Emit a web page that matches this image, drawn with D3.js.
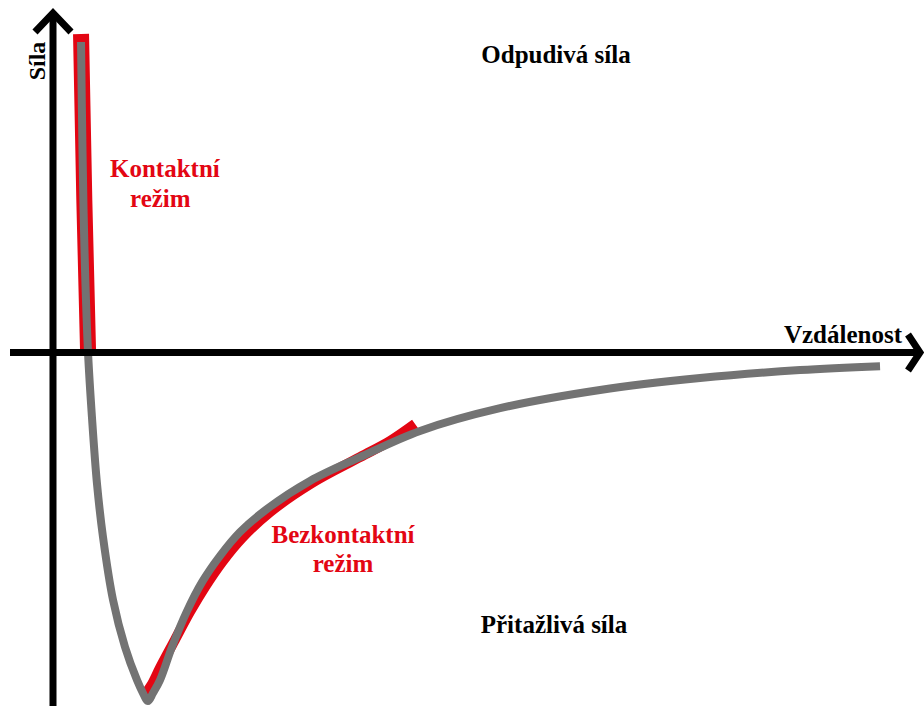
<!DOCTYPE html>
<html>
<head>
<meta charset="utf-8">
<script src="https://cdn.jsdelivr.net/npm/d3@7"></script>
<style>
  body { margin: 0; background: #fff; }
</style>
</head>
<body>
<svg id="chart" width="924" height="706"></svg>
<script>
// force vs. distance curve (arbitrary units)
const curveDist  = [3.24, 3.41, 3.64, 4.05, 4.51, 5.09, 5.78, 6.94, 8.32, 9.71, 10.40,
                    10.98, 11.56, 12.37, 13.76, 15.49, 17.23, 19.31, 21.62, 24.74,
                    29.71, 35.49, 42.43, 51.68, 63.24, 74.80, 86.36, 95.61]
const curveForce = [88.7, 57.9, 29.3, 0, -18.7, -37.6, -52.7, -70.7, -84.1, -93.6, -97.3,
                    -99.6, -97.3, -93.6, -84.1, -73.9, -65.6, -58.1, -51.3, -44.7,
                    -36.7, -29.9, -22.4, -15.9, -10.7, -7.3, -5.0, -3.9]

// highlighted regimes
const contactDist  = [3.24, 3.62, 4.05]
const contactForce = [91.0, 43.6, 0.7]
const noncontactDist  = [10.64, 11.45, 12.37, 14.10, 15.84, 17.57, 19.54, 21.85, 25.09, 29.94, 35.49, 38.96, 41.85]
const noncontactForce = [-97.6, -94.7, -90.1, -82.1, -74.1, -67.0, -59.9, -53.0, -45.6, -37.3, -29.9, -25.3, -20.4]

const axisLabels = { x: 'Vzdálenost', y: 'Síla' }
const regionLabels = ['Odpudivá síla', 'Přitažlivá síla']
const contactLabel = ['Kontaktní', 'režim']
const noncontactLabel = ['Bezkontaktní', 'režim']

var svg = d3.select('#chart')
var red = '#e30613', grey = '#737373'
var font = "'Liberation Serif', 'Times New Roman', Times, serif"

var xScale = d3.scaleLinear().domain([0, 100]).range([53, 918])
var yScale = d3.scaleLinear().domain([-100, 100]).range([702.5, 2.5])

var zip = (xs, ys) => xs.map((x, i) => [x, ys[i]])
var line = d3.line()
  .x(d => xScale(d[0]))
  .y(d => yScale(d[1]))

// red highlight under the curve
svg.append('path')
  .attr('d', line.curve(d3.curveLinear)(zip(contactDist, contactForce)))
  .attr('fill', 'none')
  .attr('stroke', red)
  .attr('stroke-width', 16)

svg.append('path')
  .attr('d', line.curve(d3.curveCatmullRom.alpha(0.5))(zip(noncontactDist, noncontactForce)))
  .attr('fill', 'none')
  .attr('stroke', red)
  .attr('stroke-width', 10)

// main curve
svg.append('path')
  .attr('d', line.curve(d3.curveCatmullRom.alpha(0.5))(zip(curveDist, curveForce)))
  .attr('fill', 'none')
  .attr('stroke', grey)
  .attr('stroke-width', 8)
  .attr('stroke-linejoin', 'round')

// axes
var x0 = xScale(0), y0 = yScale(0)
var axes = svg.append('g')
  .attr('stroke', '#000')
  .attr('stroke-width', 7)
  .attr('fill', 'none')

axes.append('line')
  .attr('x1', x0).attr('y1', 706)
  .attr('x2', x0).attr('y2', 14)
axes.append('path')
  .attr('d', `M${x0 - 18},${32} L${x0},${13} L${x0 + 18},${32}`)

axes.append('line')
  .attr('x1', 10).attr('y1', y0)
  .attr('x2', 919).attr('y2', y0)
axes.append('path')
  .attr('d', `M${908},${y0 - 18} L${920},${y0} L${908},${y0 + 18}`)

function label(txt, size) {
  return svg.append('text')
    .text(txt)
    .attr('font-family', font)
    .attr('font-weight', 'bold')
    .attr('font-size', size)
}

// axis labels
label(axisLabels.x, '25px')
  .attr('text-anchor', 'end')
  .attr('x', 902)
  .attr('y', 343)

label(axisLabels.y, '24px')
  .attr('text-anchor', 'middle')
  .attr('transform', 'translate(45,61) rotate(-90)')

// region labels
label(regionLabels[0], '25px')
  .attr('text-anchor', 'middle')
  .attr('x', 556)
  .attr('y', 63)

label(regionLabels[1], '25px')
  .attr('text-anchor', 'middle')
  .attr('x', 554)
  .attr('y', 633)

// regime labels
contactLabel.forEach(function(t, i) {
  label(t, '25px')
    .attr('fill', red)
    .attr('x', i ? 130 : 110)
    .attr('y', 177 + i * 30)
})

noncontactLabel.forEach(function(t, i) {
  label(t, '25px')
    .attr('fill', red)
    .attr('text-anchor', 'middle')
    .attr('x', 343)
    .attr('y', 543 + i * 29)
})
</script>
</body>
</html>
